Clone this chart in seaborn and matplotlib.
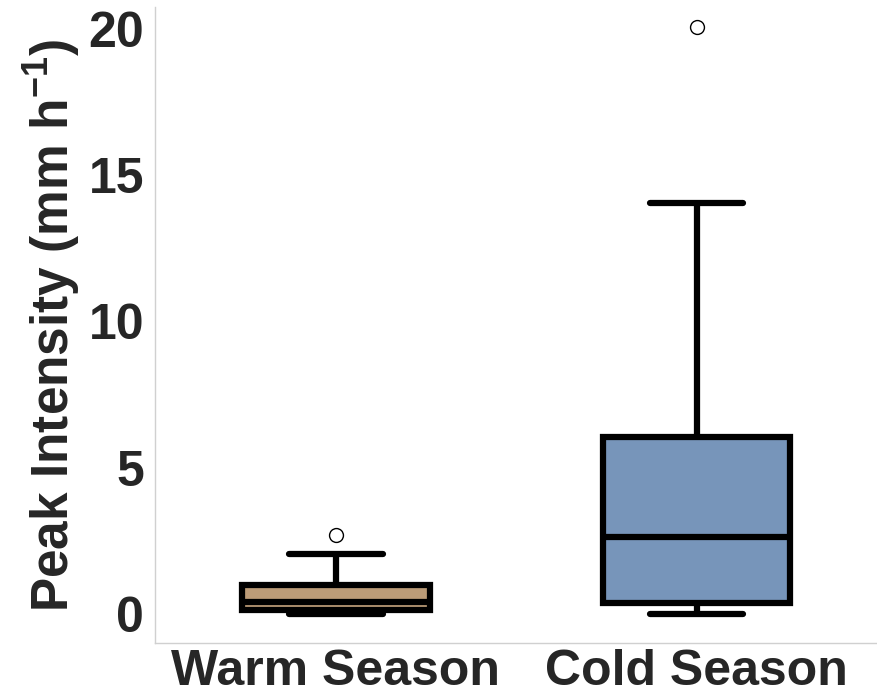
import matplotlib
matplotlib.use("Agg")
import matplotlib.pyplot as plt
import seaborn as sns
import pandas as pd

seasons = ["Warm Season", "Cold Season"]
warm_values = [0.0, 0.08, 0.14, 0.28, 0.41, 0.7, 1.0, 2.05, 2.7]
cold_values = [0.0, 0.2, 0.38, 1.5, 2.64, 4.5, 6.03, 14.04, 20.07]
colors = ["#BC9C78", "#7795BA"]
yticks = [0, 5, 10, 15, 20]

df = pd.DataFrame({
    "Season": [seasons[0]] * len(warm_values) + [seasons[1]] * len(cold_values),
    "Peak": warm_values + cold_values,
})

sns.set_style("white")
plt.rcParams["font.family"] = ["Liberation Sans", "DejaVu Sans"]
plt.rcParams["mathtext.fontset"] = "custom"
plt.rcParams["mathtext.rm"] = "Liberation Sans:bold"
plt.rcParams["mathtext.default"] = "rm"

fig = plt.figure(figsize=(8.77, 6.96), dpi=100)
ax = fig.add_axes([0.177, 0.076, 0.823, 0.914])

sns.boxplot(data=df, x="Season", y="Peak", hue="Season", order=seasons,
            palette=colors, saturation=1, width=0.52, linewidth=4.5,
            linecolor="black", legend=False, ax=ax,
            flierprops=dict(marker="o", markerfacecolor="white",
                            markeredgecolor="black", markersize=10,
                            markeredgewidth=1.0))

ax.set_xlim(-0.5, 1.5)
ax.set_ylim(-1.0, 20.75)
ax.set_yticks(yticks)
ax.set_yticklabels([str(v) for v in yticks])
ax.set_xlabel("")
ax.set_ylabel("Peak Intensity (mm h$^{-1}$)", fontsize=37, fontweight="bold",
              color="#262626", labelpad=4)
ax.tick_params(axis="y", labelsize=36, length=0, pad=8, colors="#262626")
ax.tick_params(axis="x", labelsize=36, length=0, pad=4, colors="#262626")
for lab in ax.get_xticklabels() + ax.get_yticklabels():
    lab.set_fontweight("bold")
for s in ["top", "right"]:
    ax.spines[s].set_visible(False)
for s in ["left", "bottom"]:
    ax.spines[s].set_color("#d0d0d0")
    ax.spines[s].set_linewidth(1.0)

fig.savefig("out.png", dpi=100)
